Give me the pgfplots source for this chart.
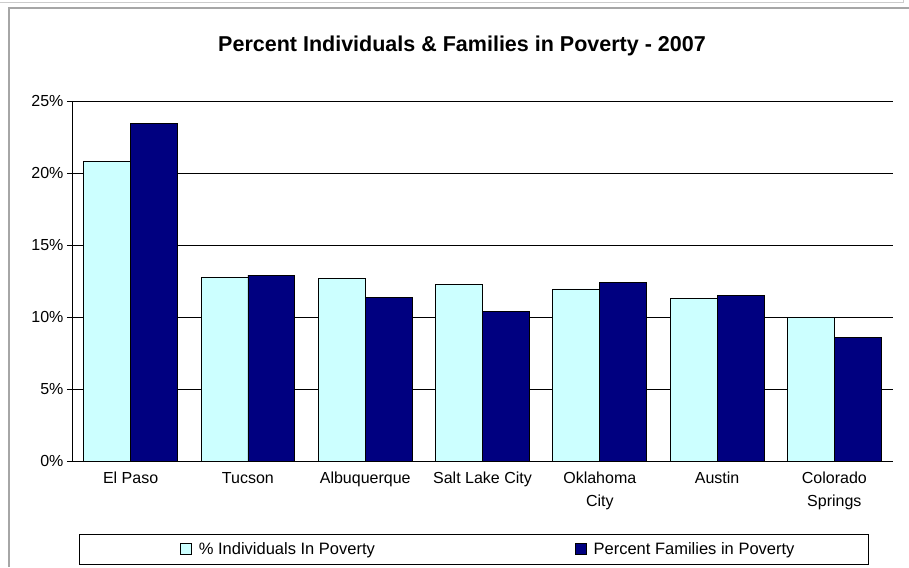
\documentclass[border=0pt]{standalone}
\usepackage{pgfplots}
\pgfplotsset{compat=1.18}
\usepackage{fontspec}
\setmainfont{Liberation Sans}
\definecolor{lcyan}{HTML}{CCFFFF}
\definecolor{navyb}{HTML}{000080}
\begin{document}
\begin{tikzpicture}[x=1pt,y=1pt]
\useasboundingbox (0,0) rectangle (909,567);
\fill[white] (0,0) rectangle (909,567);
\draw[gray!40, line width=1pt] (0,564) -- (903,564) -- (903,567);
\draw[gray!70, line width=1.5pt] (9,0) -- (9,559) -- (909,559);
\node[font=\bfseries\fontsize{21.5}{24}\selectfont] at (462,521) {Percent Individuals \& Families in Poverty - 2007};
\draw[black, line width=0.9pt] (79,3) rectangle (868,33);
\begin{axis}[
  at={(72pt,106pt)}, anchor=south west,
  scale only axis, width=821pt, height=360pt,
  ybar=0pt, bar width=0.4,
  xmin=-0.5, xmax=6.5, ymin=0, ymax=25,
  axis x line*=bottom, axis y line*=left,
  axis line style={black, line width=0.9pt},
  xtick={0,...,6},
  xticklabels={El Paso,Tucson,Albuquerque,Salt Lake City,{Oklahoma\\City},Austin,{Colorado\\Springs}},
  x tick label style={align=center, anchor=north, font=\fontsize{16}{23}\selectfont, yshift=2pt},
  typeset ticklabels with strut,
  major x tick style={draw=none},
  extra x ticks={-0.5,0.5,...,6.5},
  extra x tick labels={},
  extra x tick style={major tick length=5pt, tick style={black, line width=0.9pt}, tick align=outside},
  ytick={0,5,...,25},
  yticklabel={\pgfmathprintnumber{\tick}\%},
  y tick label style={font=\fontsize{16}{18}\selectfont},
  /pgf/number format/assume math mode=true,
  ytick style={black, line width=0.9pt},
  major tick length=5pt,
  tick align=outside,
  ymajorgrids,
  grid style={black, line width=0.7pt},
  legend style={draw=none, fill=none, at={(rel axis cs:0.1315,-0.244)}, anchor=west,
    font=\fontsize{16.5}{18}\selectfont, legend columns=2, inner sep=0pt,
    /tikz/every odd column/.append style={column sep=5pt},
    /tikz/every even column/.append style={column sep=198pt}},
  legend image code/.code={\draw[#1, line width=0.7pt] (0pt,-5.5pt) rectangle (11pt,5.5pt);},
]
\addplot[fill=lcyan, draw=black, line width=0.8pt] coordinates {(0,20.8) (1,12.75) (2,12.65) (3,12.25) (4,11.95) (5,11.3) (6,9.95)};
\addplot[fill=navyb, draw=black, line width=0.8pt] coordinates {(0,23.45) (1,12.9) (2,11.35) (3,10.4) (4,12.4) (5,11.5) (6,8.6)};
\legend{\% Individuals In Poverty, Percent Families in Poverty}
\end{axis}
\end{tikzpicture}
\end{document}
